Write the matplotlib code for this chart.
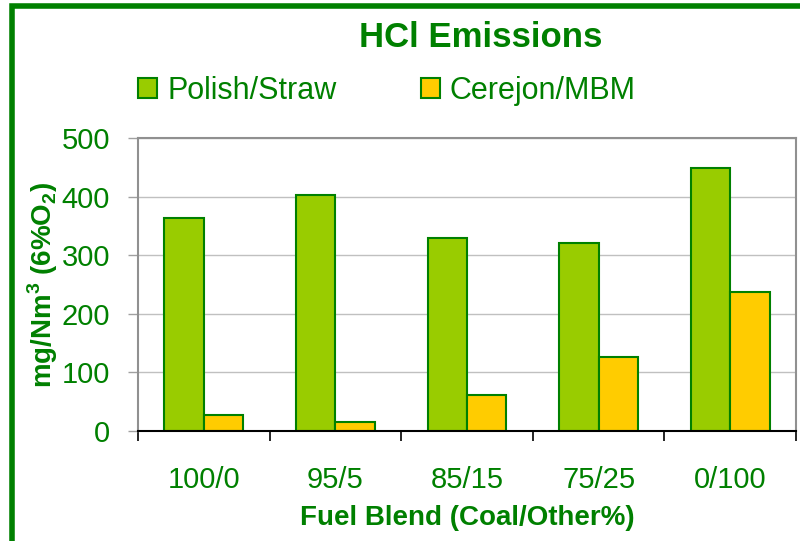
import matplotlib
matplotlib.use("Agg")
import matplotlib.pyplot as plt
import numpy as np
from matplotlib.patches import Rectangle

# data
blends = ["100/0", "95/5", "85/15", "75/25", "0/100"]
polish_straw = [364, 403, 329, 321, 449]
cerejon_mbm = [28, 16, 62, 126, 237]

green_txt = "#008000"
plt.rcParams["font.family"] = ["Liberation Sans", "DejaVu Sans"]
plt.rcParams["mathtext.fontset"] = "custom"
plt.rcParams["mathtext.rm"] = "Liberation Sans:bold"
plt.rcParams["mathtext.bf"] = "Liberation Sans:bold"

fig = plt.figure(figsize=(8, 5.41), dpi=100)
ax = fig.add_axes([0.1725, 0.2033, 0.8225, 0.5416])

x = np.arange(len(blends))
w = 0.3
ax.bar(x - w / 2, polish_straw, w, color="#99CC00", edgecolor=green_txt,
       linewidth=1.5, label="Polish/Straw", zorder=3)
ax.bar(x + w / 2, cerejon_mbm, w, color="#FFCC00", edgecolor=green_txt,
       linewidth=1.5, label="Cerejon/MBM", zorder=3)

ax.set_xlim(-0.5, 4.5)
ax.set_ylim(0, 500)
ax.set_yticks(range(0, 501, 100))
ax.yaxis.grid(True, color="#c0c0c0", linewidth=1, zorder=0)

ax.set_xticks(x)
ax.set_xticklabels(blends)
ax.set_xticks(np.arange(-0.5, 5, 1), minor=True)
ax.tick_params(axis="x", which="major", length=0, pad=25, labelsize=21,
               labelcolor=green_txt)
ax.tick_params(axis="x", which="minor", length=7, width=1.2, color="black",
               direction="out")
ax.tick_params(axis="y", length=7, width=1, color="#a0a0a0", pad=13,
               labelsize=21, labelcolor=green_txt)

for s in ["left", "top", "right"]:
    ax.spines[s].set_color("#909090")
    ax.spines[s].set_linewidth(1.5)
ax.spines["bottom"].set_color("black")
ax.spines["bottom"].set_linewidth(1.5)
ax.spines["bottom"].set_zorder(4)

ax.set_xlabel("Fuel Blend (Coal/Other%)", fontsize=20, fontweight="bold",
              color=green_txt, labelpad=8)
ax.set_ylabel(r"mg/Nm$^\mathbf{3}$ (6%O$_\mathbf{2}$)", fontsize=20,
              fontweight="bold", color=green_txt, labelpad=1)

fig.text(0.601, 0.931, "HCl Emissions", fontsize=25, fontweight="bold",
         color=green_txt, ha="center", va="center")

leg = fig.legend(loc="center left", bbox_to_anchor=(0.173, 0.832), ncol=2,
                 frameon=False, fontsize=22, handlelength=0.62,
                 handleheight=0.62, handletextpad=0.33, columnspacing=2.75,
                 borderaxespad=0, borderpad=0)
for t in leg.get_texts():
    t.set_color(green_txt)

# green frame round the chart area
fig.patches.append(Rectangle((12 / 800, -0.1), 1.2, (541 - 6) / 541 + 0.1,
                             transform=fig.transFigure, fill=False,
                             edgecolor=green_txt, linewidth=4))

fig.savefig("out.png", dpi=100)
